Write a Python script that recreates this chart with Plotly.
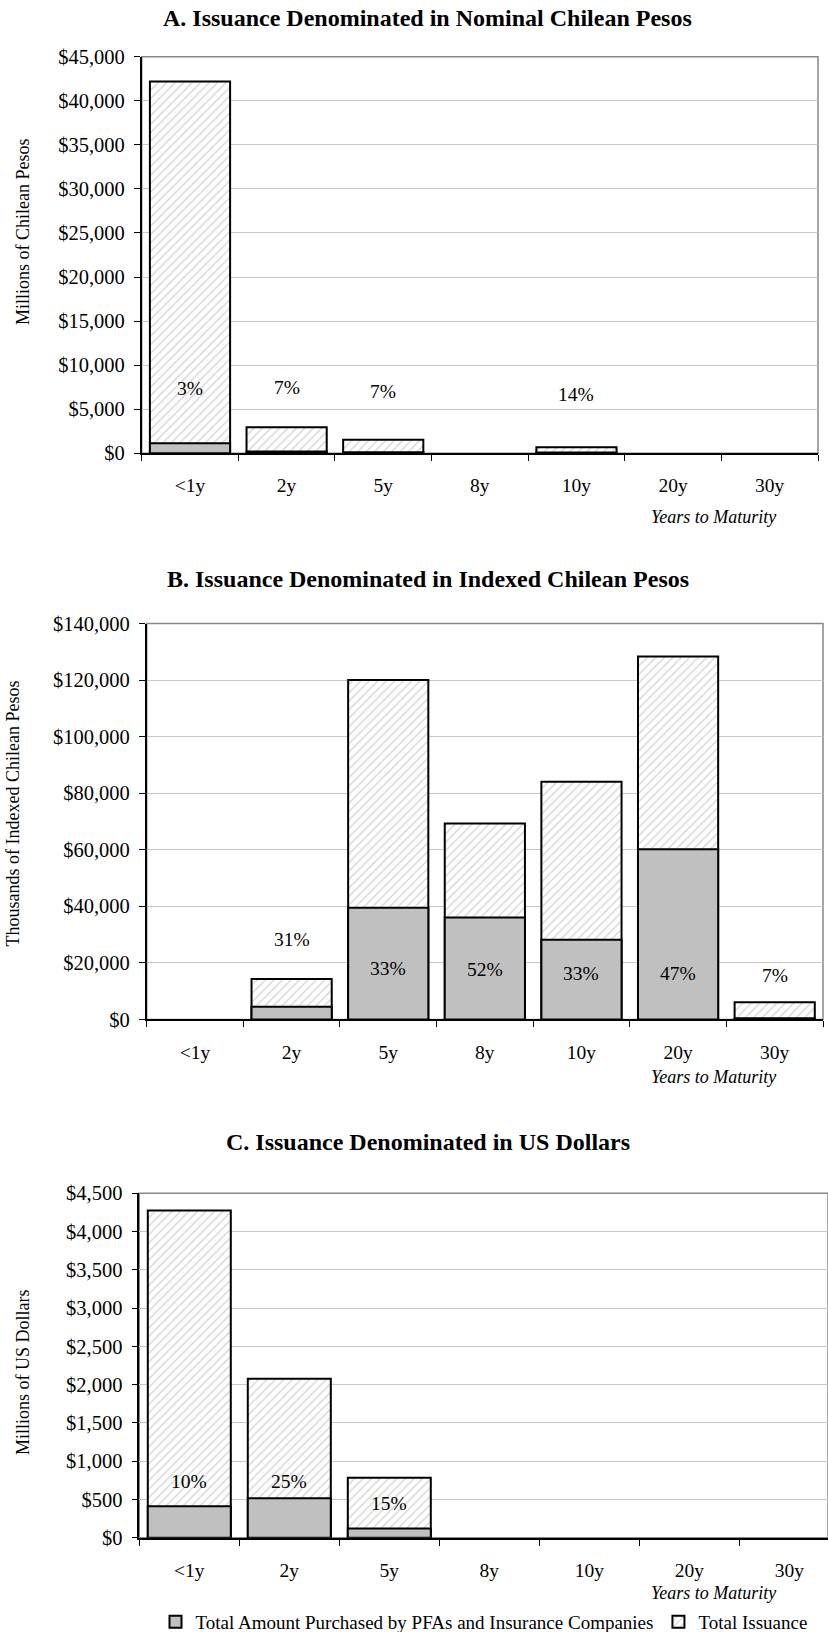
import plotly.graph_objects as go

# ---------------- data ----------------
categories = ["<1y", "2y", "5y", "8y", "10y", "20y", "30y"]

# Panel A: nominal Chilean pesos (millions)
a_total = [42200, 2950, 1550, 0, 700, 0, 0]
a_purch = [1150, 200, 110, 0, 100, 0, 0]
a_pct = ["3%", "7%", "7%", "", "14%", "", ""]
a_label_y = [7400, 7450, 7000, None, 6700, None, None]

# Panel B: indexed Chilean pesos (thousands)
b_total = [0, 14300, 120000, 69300, 84000, 128300, 6050]
b_purch = [0, 4500, 39500, 36000, 28200, 60200, 450]
b_pct = ["", "31%", "33%", "52%", "33%", "47%", "7%"]
b_label_y = [None, 28300, 18100, 17500, 16300, 16300, 15700]

# Panel C: US dollars (millions)
c_total = [4275, 2076, 785, 0, 0, 0, 0]
c_purch = [413, 517, 121, 0, 0, 0, 0]
c_pct = ["10%", "25%", "15%", "", "", "", ""]
c_label_y = [740, 740, 452, None, None, None, None]

titles = ["A. Issuance Denominated in Nominal Chilean Pesos",
          "B. Issuance Denominated in Indexed Chilean Pesos",
          "C. Issuance Denominated in US Dollars"]
y_titles = ["Millions of Chilean Pesos",
            "Thousands of Indexed Chilean Pesos",
            "Millions of US Dollars"]
y_ranges = [(0, 45000, 5000), (0, 140000, 20000), (0, 4500, 500)]
legend_names = ["Total Amount Purchased by PFAs and Insurance Companies",
                "Total Issuance"]

# ---------------- layout geometry (pixels) ----------------
W, H = 828, 1632
FONT = "Liberation Serif"
panels = [
    dict(left=141.7, right=818.0, top=56.7, bottom=453.3, xr=(-0.5, 6.5),
         title_y=18, ytitle_x=23, ytitle_y=232, yom_y=517),
    dict(left=146.7, right=823.0, top=623.5, bottom=1019.4, xr=(-0.5, 6.5),
         title_y=579, ytitle_x=12.5, ytitle_y=814, yom_y=1077),
    dict(left=139.3, right=828.0, top=1193.2, bottom=1537.8, xr=(-0.5, 6.387),
         title_y=1142, ytitle_x=23, ytitle_y=1372, yom_y=1593),
]

def px_x(x):
    return x / W

def px_y(y):
    return 1 - y / H

def nz(vals):
    return [v if v else None for v in vals]

data = [(a_total, a_purch, a_pct, a_label_y),
        (b_total, b_purch, b_pct, b_label_y),
        (c_total, c_purch, c_pct, c_label_y)]

fig = go.Figure()
annotations = []
shapes = []
hatch = dict(shape="/", fgcolor="#a8a8a8", bgcolor="#ffffff", size=6, solidity=0.22)

for i, (p, (tot, pur, pct, ly)) in enumerate(zip(panels, data)):
    n = "" if i == 0 else str(i + 1)
    xa, ya = "x" + n, "y" + n
    fig.add_trace(go.Bar(
        x=categories, y=nz(tot), xaxis=xa, yaxis=ya, width=0.83,
        name=legend_names[1], showlegend=(i == 0), legendrank=2,
        marker=dict(color="#ffffff", pattern=hatch,
                    line=dict(color="#000000", width=2)),
    ))
    fig.add_trace(go.Bar(
        x=categories, y=nz(pur), xaxis=xa, yaxis=ya, width=0.83,
        name=legend_names[0], showlegend=(i == 0), legendrank=1,
        marker=dict(color="#c0c0c0", line=dict(color="#000000", width=2)),
    ))
    y0, y1, dy = y_ranges[i]
    fig.layout["xaxis" + n] = dict(
        domain=[px_x(p["left"]), px_x(p["right"])], anchor=ya,
        range=list(p["xr"]), type="category", tickson="boundaries",
        ticks="outside", ticklen=6, tickcolor="#000000", tickwidth=1,
        showline=True, linecolor="#000000", linewidth=1.5,
        showgrid=False, ticklabelstandoff=14,
        tickfont=dict(family=FONT, size=19.5, color="#000000"),
    )
    fig.layout["yaxis" + n] = dict(
        domain=[px_y(p["bottom"]), px_y(p["top"])], anchor=xa,
        range=[y0, y1], dtick=dy, tick0=0, tickprefix="$", tickformat=",d",
        ticks="outside", ticklen=6, tickcolor="#000000", tickwidth=1,
        showline=True, linecolor="#000000", linewidth=1.5,
        showgrid=True, gridcolor="#c8c8c8", gridwidth=1,
        zeroline=False, ticklabelstandoff=5,
        tickfont=dict(family=FONT, size=20.5, color="#000000"),
    )
    # gray plot border (top / right)
    shapes.append(dict(type="rect", xref=xa + " domain", yref=ya + " domain",
                       x0=0, x1=1, y0=0, y1=1, line=dict(color="#888888", width=1.5),
                       layer="below"))
    # percentage labels
    for c, t, yy in zip(categories, pct, ly):
        if t and yy is not None:
            annotations.append(dict(x=c, y=yy, xref=xa, yref=ya, text=t,
                                    showarrow=False,
                                    font=dict(family=FONT, size=19.5, color="#000000")))
    # panel title
    annotations.append(dict(x=px_x(428), y=px_y(p["title_y"]), xref="paper", yref="paper",
                            text="<b>" + titles[i] + "</b>", showarrow=False,
                            xanchor="center", yanchor="middle",
                            font=dict(family=FONT, size=24, color="#000000")))
    # y-axis title
    annotations.append(dict(x=px_x(p["ytitle_x"]), y=px_y(p["ytitle_y"]),
                            xref="paper", yref="paper", text=y_titles[i], textangle=-90,
                            showarrow=False, xanchor="center", yanchor="middle",
                            font=dict(family=FONT, size=18, color="#000000")))
    # x-axis title
    annotations.append(dict(x=px_x(778), y=px_y(p["yom_y"]), xref="paper", yref="paper",
                            text="<i>Years to Maturity</i>", showarrow=False,
                            xanchor="right", yanchor="middle",
                            font=dict(family=FONT, size=18, color="#000000")))

fig.update_layout(
    width=W, height=H, margin=dict(l=0, r=0, t=0, b=0, autoexpand=False),
    paper_bgcolor="#ffffff", plot_bgcolor="#ffffff",
    barmode="overlay",
    annotations=annotations, shapes=shapes,
    showlegend=True,
    legend=dict(orientation="h", x=px_x(484), xanchor="center",
                y=px_y(1622), yanchor="middle", traceorder="normal",
                font=dict(family=FONT, size=19, color="#000000"),
                itemwidth=30, bgcolor="rgba(0,0,0,0)", tracegroupgap=0),
)

fig.write_html("out.html",
               config={"displayModeBar": False},
               post_script="document.body.style.margin='0';document.body.style.padding='0';")
